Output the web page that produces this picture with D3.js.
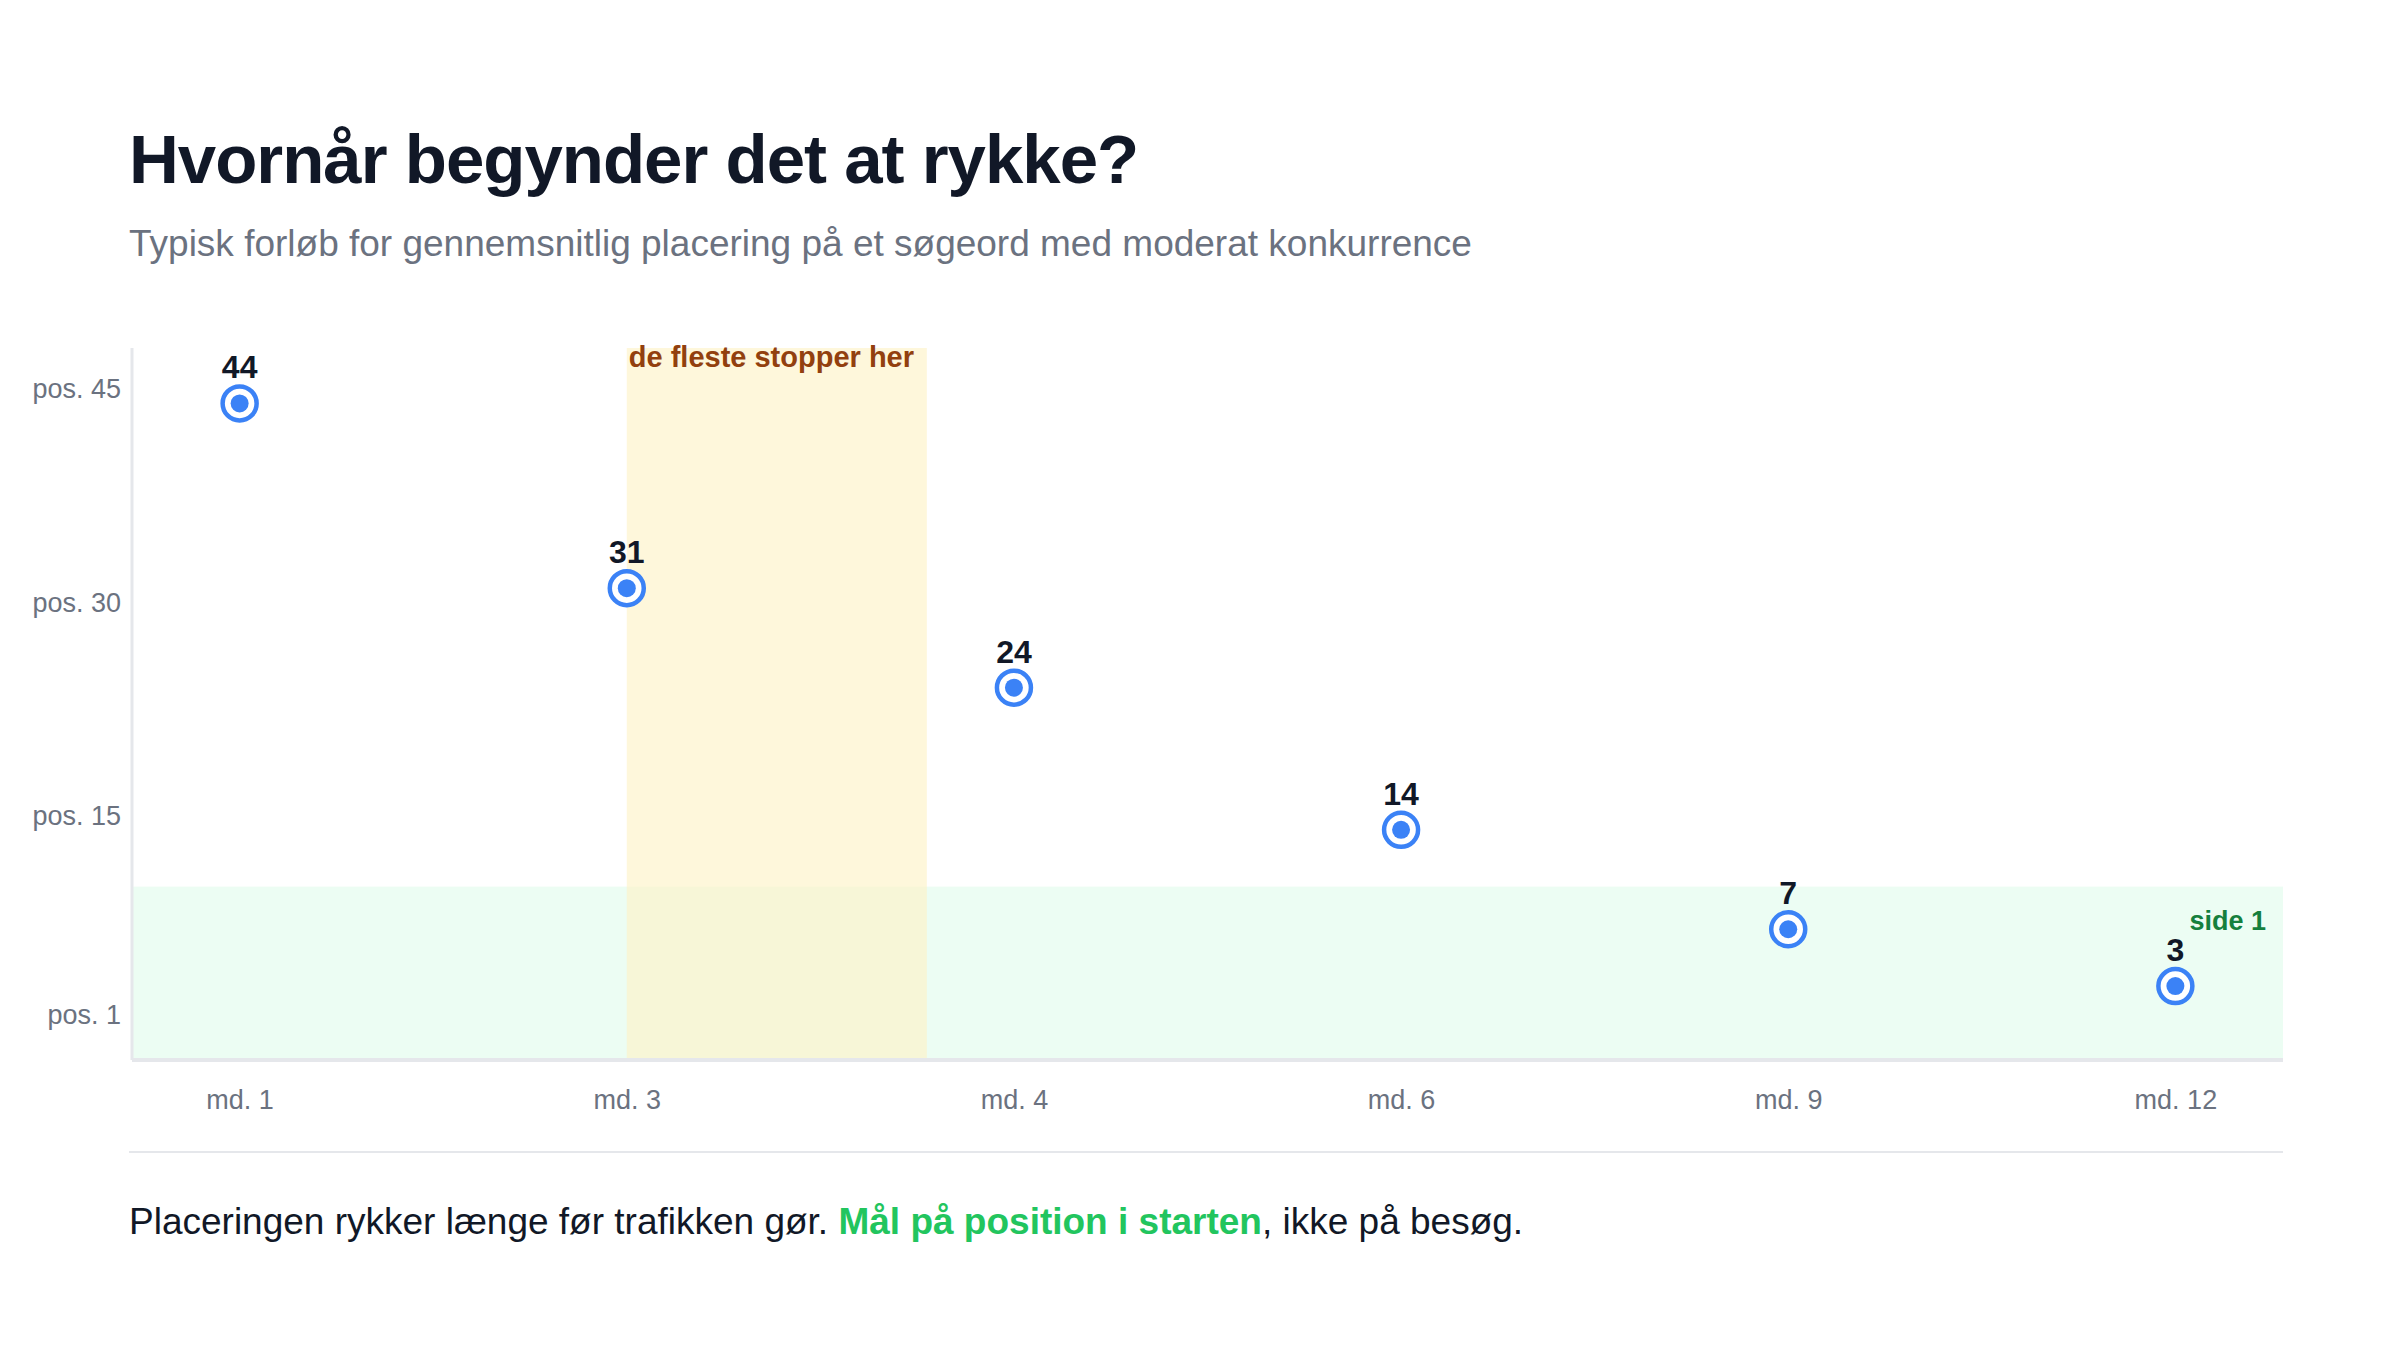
<!DOCTYPE html>
<html><head><meta charset="utf-8">
<script src="https://cdn.jsdelivr.net/npm/d3@7"></script>
<style>body{margin:0;background:#fff;font-family:"Liberation Sans",Arial,sans-serif}</style>
</head><body><svg id="c" width="2400" height="1350"></svg>
<script>
const categories = ["md. 1","md. 3","md. 4","md. 6","md. 9","md. 12"];
const positions = [44,31,24,14,7,3];
const yTicks = [45,30,15,1];
const yTickLabels = ["pos. 45","pos. 30","pos. 15","pos. 1"];
const page1Max = 10;
const title = "Hvornår begynder det at rykke?";
const subtitle = "Typisk forløb for gennemsnitlig placering på et søgeord med moderat konkurrence";

const svg = d3.select("#c");
const L=132, R=2283, T=348, B=1060;
const x = d3.scalePoint().domain(categories).range([L,R]).padding(0.278);
const y = d3.scaleLinear().domain([-2.2,47.9]).range([B,T]);
const step = x.step();

svg.append("text").attr("x",129).attr("y",183).attr("font-size",69).attr("font-weight",700).attr("fill","#111827").attr("letter-spacing",-1).text(title);
svg.append("text").attr("x",129).attr("y",256).attr("font-size",37).attr("fill","#6b7280").text(subtitle);

svg.append("rect").attr("x",L).attr("width",R-L).attr("y",y(page1Max)).attr("height",B-y(page1Max)).attr("fill","#ecfdf3");
const sx = x("md. 3");
svg.append("rect").attr("x",sx).attr("width",step*0.775).attr("y",T).attr("height",B-T).attr("fill","#fdf3c8").attr("opacity",0.65);
svg.append("text").attr("x",sx+2).attr("y",367).attr("font-size",29).attr("font-weight",700).attr("fill","#92400e").text("de fleste stopper her");
svg.append("text").attr("x",2266).attr("y",930).attr("text-anchor","end").attr("font-size",27).attr("font-weight",700).attr("fill","#15803d").text("side 1");

svg.append("line").attr("x1",L).attr("x2",L).attr("y1",T).attr("y2",B).attr("stroke","#e5e7eb").attr("stroke-width",3);
svg.append("line").attr("x1",L).attr("x2",R).attr("y1",B).attr("y2",B).attr("stroke","#e5e7eb").attr("stroke-width",4);

const ya = svg.append("g").attr("transform",`translate(${L},0)`)
  .call(d3.axisLeft(y).tickValues(yTicks).tickFormat((d,i)=>yTickLabels[i]).tickSize(0).tickPadding(11));
ya.select(".domain").remove();
ya.selectAll("text").attr("font-size",27).attr("fill","#6b7280").attr("font-family","Liberation Sans, Arial");
const xa = svg.append("g").attr("transform",`translate(0,${B})`)
  .call(d3.axisBottom(x).tickSize(0).tickPadding(30));
xa.select(".domain").remove();
xa.selectAll("text").attr("font-size",27).attr("fill","#6b7280").attr("font-family","Liberation Sans, Arial");

const pts = svg.append("g").selectAll("g").data(categories).join("g")
  .attr("transform",(d,i)=>`translate(${x(d)},${y(positions[i])})`);
pts.append("circle").attr("r",17).attr("fill","#fff").attr("stroke","#3b82f6").attr("stroke-width",4.5);
pts.append("circle").attr("r",9).attr("fill","#3b82f6");
pts.append("text").attr("y",-25).attr("text-anchor","middle").attr("font-size",32).attr("font-weight",700).attr("fill","#111827").text((d,i)=>positions[i]);

svg.append("line").attr("x1",129).attr("x2",R).attr("y1",1152).attr("y2",1152).attr("stroke","#e5e7eb").attr("stroke-width",2);
const f = svg.append("text").attr("x",129).attr("y",1234).attr("font-size",37).attr("fill","#111827");
f.append("tspan").text("Placeringen rykker længe før trafikken gør. ");
f.append("tspan").attr("fill","#22c55e").attr("font-weight",700).text("Mål på position i starten");
f.append("tspan").text(", ikke på besøg.");
</script></body></html>
